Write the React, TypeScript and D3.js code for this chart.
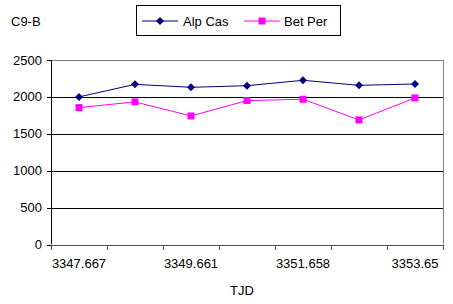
import React from "react";
import * as d3 from "d3";

const categories = ["3347.667", "3348.664", "3349.661", "3350.66", "3351.658", "3352.654", "3353.65"];
const alpCas = [2000, 2170, 2130, 2152, 2225, 2157, 2175];
const betPer = [1855, 1932, 1742, 1950, 1968, 1688, 1986];
const yTicks = [0, 500, 1000, 1500, 2000, 2500];
const seriesNames = ["Alp Cas", "Bet Per"];
const chartTitle = "C9-B";
const xTitle = "TJD";

const W = 453;
const H = 304;
const FONT = "'Liberation Sans', Arial, sans-serif";
const FS = 13;

export default function App() {
  const left = 51;
  const right = 443;
  const top = 60;
  const bottom = 244.5;

  const x = d3.scaleBand<string>().domain(categories).range([left, right]).padding(0);
  const y = d3.scaleLinear().domain([0, 2500]).range([bottom, top]);
  const cx = (c: string) => (x(c) as number) + x.bandwidth() / 2;

  const line = d3
    .line<[string, number]>()
    .x((d) => cx(d[0]))
    .y((d) => y(d[1]));

  const alpPts = categories.map((c, i) => [c, alpCas[i]] as [string, number]);
  const betPts = categories.map((c, i) => [c, betPer[i]] as [string, number]);

  const navy = "#000080";
  const magenta = "#FF00FF";

  const diamond = (px: number, py: number, r = 4) =>
    `M${px},${py - r}L${px + r},${py}L${px},${py + r}L${px - r},${py}Z`;

  const boundaries = [...categories.map((c) => x(c) as number), right];

  return (
    <svg
      width={W}
      height={H}
      style={{ position: "absolute", left: 0, top: 0, background: "#fff" }}
      fontFamily={FONT}
      fontSize={FS}
    >
      <rect x={0} y={0} width={W} height={H} fill="#fff" />
      {/* title */}
      <text x={11} y={21} dominantBaseline="central" fill="#000">
        {chartTitle}
      </text>

      {/* legend */}
      <rect x={136.5} y={5.5} width={204} height={30} fill="#fff" stroke="#000" strokeWidth={1} />
      <line x1={142} x2={178} y1={21} y2={21} stroke={navy} strokeWidth={1} />
      <path d={diamond(160, 21)} fill={navy} />
      <text x={183} y={21} dominantBaseline="central">
        {seriesNames[0]}
      </text>
      <line x1={244} x2={280} y1={21} y2={21} stroke={magenta} strokeWidth={1} />
      <rect x={258.5} y={17.5} width={7} height={7} fill={magenta} />
      <text x={284} y={21} dominantBaseline="central">
        {seriesNames[1]}
      </text>

      {/* plot border */}
      <line x1={left} x2={right} y1={top + 0.5} y2={top + 0.5} stroke="#808080" />
      <line x1={right + 0.5} x2={right + 0.5} y1={top} y2={bottom} stroke="#808080" />

      {/* gridlines */}
      {yTicks
        .filter((t) => t > 0 && t < 2500)
        .map((t) => (
          <line key={t} x1={left} x2={right} y1={Math.round(y(t)) + 0.5} y2={Math.round(y(t)) + 0.5} stroke="#000" />
        ))}

      {/* y axis */}
      <line x1={left + 0.5} x2={left + 0.5} y1={top} y2={bottom} stroke="#000" />
      {yTicks.map((t) => (
        <g key={t}>
          <line x1={left - 4} x2={left} y1={Math.round(y(t)) + 0.5} y2={Math.round(y(t)) + 0.5} stroke="#000" />
          <text x={left - 9} y={y(t)} textAnchor="end" dominantBaseline="central">
            {t}
          </text>
        </g>
      ))}

      {/* x axis */}
      <line x1={left} x2={right + 1} y1={Math.round(bottom) + 0.5} y2={Math.round(bottom) + 0.5} stroke="#505050" />
      {boundaries.map((b, i) => (
        <line
          key={i}
          x1={Math.round(b) + 0.5}
          x2={Math.round(b) + 0.5}
          y1={Math.round(bottom)}
          y2={Math.round(bottom) + 5}
          stroke="#505050"
        />
      ))}
      {categories.map((c, i) =>
        i % 2 === 0 ? (
          <text key={c} x={cx(c)} y={263} textAnchor="middle" dominantBaseline="central">
            {c}
          </text>
        ) : null
      )}
      <text x={242} y={290} textAnchor="middle" dominantBaseline="central">
        {xTitle}
      </text>

      {/* series */}
      <path d={line(betPts) || ""} fill="none" stroke={magenta} strokeWidth={1} />
      <path d={line(alpPts) || ""} fill="none" stroke={navy} strokeWidth={1} />
      {betPts.map((d) => (
        <rect key={"b" + d[0]} x={cx(d[0]) - 3.5} y={y(d[1]) - 3.5} width={7} height={7} fill={magenta} />
      ))}
      {alpPts.map((d) => (
        <path key={"a" + d[0]} d={diamond(cx(d[0]), y(d[1]))} fill={navy} />
      ))}
    </svg>
  );
}
